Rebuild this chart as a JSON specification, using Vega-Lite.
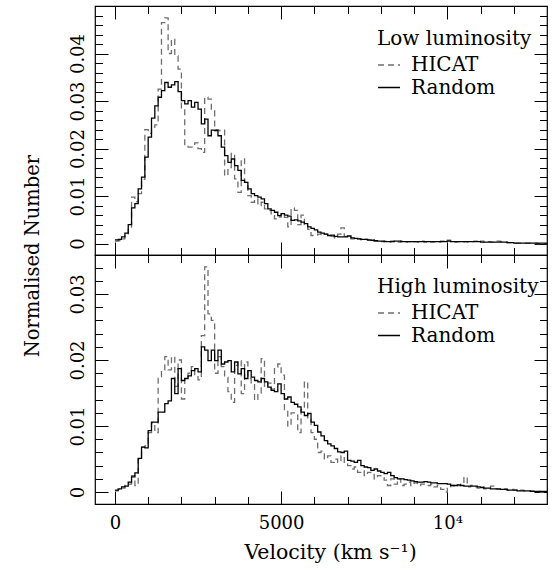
{
  "$schema": "https://vega.github.io/schema/vega-lite/v6.json",
  "autosize": {"type": "pad"},
  "padding": {"left": 21, "top": 4, "right": 5, "bottom": 5},
  "background": "white",
  "spacing": 0,
  "bounds": "flush",
  "config": {
    "font": "DejaVu Serif",
    "view": {"stroke": "black", "strokeWidth": 1.2},
    "axis": {"domain": false, "grid": false, "tickColor": "black", "tickWidth": 1, "labelColor": "black", "titleColor": "black", "labelFont": "DejaVu Serif", "titleFont": "DejaVu Serif", "labelFontSize": 18, "titleFontSize": 19.5, "titleFontWeight": "normal", "labelOverlap": false, "labelFlush": false},
    "legend": {"titleFont": "DejaVu Serif", "labelFont": "DejaVu Serif", "titleFontSize": 20, "labelFontSize": 20, "titleFontWeight": "normal", "titleColor": "black", "labelColor": "black", "symbolType": "stroke", "symbolSize": 484, "symbolStrokeWidth": 1.3, "labelOffset": 10, "rowPadding": 0.5, "titlePadding": 4, "padding": 0},
    "mark": {"color": "black"}
  },
  "datasets": {
    "low": [
      {"v":0,"HICAT":0.0005,"Random":0.0008},
      {"v":100,"HICAT":0.0006,"Random":0.0009},
      {"v":200,"HICAT":0.0010,"Random":0.0014},
      {"v":300,"HICAT":0.0018,"Random":0.0022},
      {"v":400,"HICAT":0.0030,"Random":0.0040},
      {"v":500,"HICAT":0.0098,"Random":0.0075},
      {"v":600,"HICAT":0.0088,"Random":0.0084},
      {"v":700,"HICAT":0.0105,"Random":0.0115},
      {"v":800,"HICAT":0.0135,"Random":0.0140},
      {"v":900,"HICAT":0.0240,"Random":0.0182},
      {"v":1000,"HICAT":0.0232,"Random":0.0224},
      {"v":1100,"HICAT":0.0245,"Random":0.0264},
      {"v":1200,"HICAT":0.0250,"Random":0.0290},
      {"v":1300,"HICAT":0.0325,"Random":0.0308},
      {"v":1400,"HICAT":0.0465,"Random":0.0322},
      {"v":1500,"HICAT":0.0475,"Random":0.0339},
      {"v":1600,"HICAT":0.0400,"Random":0.0329},
      {"v":1700,"HICAT":0.0430,"Random":0.0334},
      {"v":1800,"HICAT":0.0395,"Random":0.0341},
      {"v":1900,"HICAT":0.0367,"Random":0.0320},
      {"v":2000,"HICAT":0.0283,"Random":0.0301},
      {"v":2100,"HICAT":0.0206,"Random":0.0294},
      {"v":2200,"HICAT":0.0203,"Random":0.0301},
      {"v":2300,"HICAT":0.0203,"Random":0.0287},
      {"v":2400,"HICAT":0.0212,"Random":0.0297},
      {"v":2500,"HICAT":0.0200,"Random":0.0283},
      {"v":2600,"HICAT":0.0192,"Random":0.0252},
      {"v":2700,"HICAT":0.0308,"Random":0.0262},
      {"v":2800,"HICAT":0.0304,"Random":0.0227},
      {"v":2900,"HICAT":0.0280,"Random":0.0239},
      {"v":3000,"HICAT":0.0240,"Random":0.0238},
      {"v":3100,"HICAT":0.0238,"Random":0.0227},
      {"v":3200,"HICAT":0.0239,"Random":0.0203},
      {"v":3300,"HICAT":0.0143,"Random":0.0185},
      {"v":3400,"HICAT":0.0160,"Random":0.0171},
      {"v":3500,"HICAT":0.0190,"Random":0.0178},
      {"v":3600,"HICAT":0.0136,"Random":0.0164},
      {"v":3700,"HICAT":0.0108,"Random":0.0154},
      {"v":3800,"HICAT":0.0178,"Random":0.0133},
      {"v":3900,"HICAT":0.0129,"Random":0.0129},
      {"v":4000,"HICAT":0.0101,"Random":0.0115},
      {"v":4100,"HICAT":0.0087,"Random":0.0105},
      {"v":4200,"HICAT":0.0094,"Random":0.0101},
      {"v":4300,"HICAT":0.0080,"Random":0.0098},
      {"v":4400,"HICAT":0.0087,"Random":0.0094},
      {"v":4500,"HICAT":0.0073,"Random":0.0084},
      {"v":4600,"HICAT":0.0070,"Random":0.0073},
      {"v":4700,"HICAT":0.0059,"Random":0.0070},
      {"v":4800,"HICAT":0.0052,"Random":0.0066},
      {"v":4900,"HICAT":0.0056,"Random":0.0059},
      {"v":5000,"HICAT":0.0062,"Random":0.0063},
      {"v":5100,"HICAT":0.0055,"Random":0.0060},
      {"v":5200,"HICAT":0.0035,"Random":0.0058},
      {"v":5300,"HICAT":0.0075,"Random":0.0049},
      {"v":5400,"HICAT":0.0070,"Random":0.0050},
      {"v":5500,"HICAT":0.0040,"Random":0.0048},
      {"v":5600,"HICAT":0.0060,"Random":0.0045},
      {"v":5700,"HICAT":0.0040,"Random":0.0042},
      {"v":5800,"HICAT":0.0030,"Random":0.0035},
      {"v":5900,"HICAT":0.0017,"Random":0.0032},
      {"v":6000,"HICAT":0.0018,"Random":0.0029},
      {"v":6100,"HICAT":0.0020,"Random":0.0024},
      {"v":6200,"HICAT":0.0017,"Random":0.0022},
      {"v":6300,"HICAT":0.0020,"Random":0.0020},
      {"v":6400,"HICAT":0.0018,"Random":0.0017},
      {"v":6500,"HICAT":0.0015,"Random":0.0018},
      {"v":6600,"HICAT":0.0012,"Random":0.0015},
      {"v":6700,"HICAT":0.0020,"Random":0.0014},
      {"v":6800,"HICAT":0.0033,"Random":0.0014},
      {"v":6900,"HICAT":0.0015,"Random":0.0014},
      {"v":7000,"HICAT":0.0014,"Random":0.0016},
      {"v":7100,"HICAT":0.0010,"Random":0.0012},
      {"v":7200,"HICAT":0.0012,"Random":0.0011},
      {"v":7300,"HICAT":0.0010,"Random":0.0010},
      {"v":7400,"HICAT":0.0008,"Random":0.0009},
      {"v":7500,"HICAT":0.0009,"Random":0.0009},
      {"v":7600,"HICAT":0.0007,"Random":0.0008},
      {"v":7700,"HICAT":0.0008,"Random":0.0007},
      {"v":7800,"HICAT":0.0005,"Random":0.0006},
      {"v":7900,"HICAT":0.0006,"Random":0.0005},
      {"v":8000,"HICAT":0.0004,"Random":0.0005},
      {"v":8100,"HICAT":0.0005,"Random":0.0004},
      {"v":8200,"HICAT":0.0003,"Random":0.0004},
      {"v":8300,"HICAT":0.0005,"Random":0.0004},
      {"v":8400,"HICAT":0.0004,"Random":0.0005},
      {"v":8500,"HICAT":0.0003,"Random":0.0005},
      {"v":8600,"HICAT":0.0005,"Random":0.0004},
      {"v":8700,"HICAT":0.0003,"Random":0.0004},
      {"v":8800,"HICAT":0.0004,"Random":0.0004},
      {"v":8900,"HICAT":0.0002,"Random":0.0004},
      {"v":9000,"HICAT":0.0004,"Random":0.0004},
      {"v":9100,"HICAT":0.0003,"Random":0.0004},
      {"v":9200,"HICAT":0.0005,"Random":0.0004},
      {"v":9300,"HICAT":0.0003,"Random":0.0004},
      {"v":9400,"HICAT":0.0004,"Random":0.0004},
      {"v":9500,"HICAT":0.0003,"Random":0.0004},
      {"v":9600,"HICAT":0.0004,"Random":0.0004},
      {"v":9700,"HICAT":0.0003,"Random":0.0004},
      {"v":9800,"HICAT":0.0005,"Random":0.0004},
      {"v":9900,"HICAT":0.0004,"Random":0.0004},
      {"v":10000,"HICAT":0.0007,"Random":0.0005},
      {"v":10100,"HICAT":0.0004,"Random":0.0004},
      {"v":10200,"HICAT":0.0003,"Random":0.0004},
      {"v":10300,"HICAT":0.0004,"Random":0.0004},
      {"v":10400,"HICAT":0.0003,"Random":0.0004},
      {"v":10500,"HICAT":0.0004,"Random":0.0004},
      {"v":10600,"HICAT":0.0003,"Random":0.0004},
      {"v":10700,"HICAT":0.0004,"Random":0.0004},
      {"v":10800,"HICAT":0.0005,"Random":0.0004},
      {"v":10900,"HICAT":0.0003,"Random":0.0004},
      {"v":11000,"HICAT":0.0005,"Random":0.0003},
      {"v":11100,"HICAT":0.0003,"Random":0.0003},
      {"v":11200,"HICAT":0.0004,"Random":0.0003},
      {"v":11300,"HICAT":0.0003,"Random":0.0003},
      {"v":11400,"HICAT":0.0004,"Random":0.0003},
      {"v":11500,"HICAT":0.0005,"Random":0.0003},
      {"v":11600,"HICAT":0.0004,"Random":0.0003},
      {"v":11700,"HICAT":0.0003,"Random":0.0003},
      {"v":11800,"HICAT":0.0002,"Random":0.0002},
      {"v":11900,"HICAT":0.0002,"Random":0.0002},
      {"v":12000,"HICAT":0.0001,"Random":0.0001},
      {"v":12100,"HICAT":0.0001,"Random":0.0001},
      {"v":12200,"HICAT":0.0001,"Random":0.0001},
      {"v":12300,"HICAT":0.0001,"Random":0.0001},
      {"v":12400,"HICAT":0.0001,"Random":0.0001},
      {"v":12500,"HICAT":0.0001,"Random":0.0001},
      {"v":12600,"HICAT":0.0001,"Random":0.0001},
      {"v":12700,"HICAT":0.0000,"Random":0.0001},
      {"v":12800,"HICAT":0.0000,"Random":0.0001},
      {"v":12900,"HICAT":0.0000,"Random":0.0001},
      {"v":13000,"HICAT":0.0000,"Random":0.0001}
    ],
    "high": [
      {"v":0,"HICAT":0.0002,"Random":0.0003},
      {"v":100,"HICAT":0.0004,"Random":0.0005},
      {"v":200,"HICAT":0.0006,"Random":0.0008},
      {"v":300,"HICAT":0.0010,"Random":0.0009},
      {"v":400,"HICAT":0.0012,"Random":0.0015},
      {"v":500,"HICAT":0.0025,"Random":0.0023},
      {"v":600,"HICAT":0.0010,"Random":0.0029},
      {"v":700,"HICAT":0.0050,"Random":0.0051},
      {"v":800,"HICAT":0.0068,"Random":0.0068},
      {"v":900,"HICAT":0.0070,"Random":0.0067},
      {"v":1000,"HICAT":0.0090,"Random":0.0093},
      {"v":1100,"HICAT":0.0105,"Random":0.0106},
      {"v":1200,"HICAT":0.0090,"Random":0.0106},
      {"v":1300,"HICAT":0.0175,"Random":0.0121},
      {"v":1400,"HICAT":0.0185,"Random":0.0121},
      {"v":1500,"HICAT":0.0205,"Random":0.0134},
      {"v":1600,"HICAT":0.0185,"Random":0.0138},
      {"v":1700,"HICAT":0.0205,"Random":0.0172},
      {"v":1800,"HICAT":0.0160,"Random":0.0149},
      {"v":1900,"HICAT":0.0200,"Random":0.0187},
      {"v":2000,"HICAT":0.0141,"Random":0.0169},
      {"v":2100,"HICAT":0.0175,"Random":0.0172},
      {"v":2200,"HICAT":0.0180,"Random":0.0176},
      {"v":2300,"HICAT":0.0190,"Random":0.0184},
      {"v":2400,"HICAT":0.0175,"Random":0.0187},
      {"v":2500,"HICAT":0.0170,"Random":0.0182},
      {"v":2600,"HICAT":0.0237,"Random":0.0220},
      {"v":2700,"HICAT":0.0341,"Random":0.0215},
      {"v":2800,"HICAT":0.0270,"Random":0.0199},
      {"v":2900,"HICAT":0.0260,"Random":0.0215},
      {"v":3000,"HICAT":0.0180,"Random":0.0199},
      {"v":3100,"HICAT":0.0205,"Random":0.0215},
      {"v":3200,"HICAT":0.0190,"Random":0.0194},
      {"v":3300,"HICAT":0.0174,"Random":0.0197},
      {"v":3400,"HICAT":0.0152,"Random":0.0199},
      {"v":3500,"HICAT":0.0136,"Random":0.0182},
      {"v":3600,"HICAT":0.0192,"Random":0.0197},
      {"v":3700,"HICAT":0.0199,"Random":0.0179},
      {"v":3800,"HICAT":0.0149,"Random":0.0187},
      {"v":3900,"HICAT":0.0197,"Random":0.0172},
      {"v":4000,"HICAT":0.0172,"Random":0.0184},
      {"v":4100,"HICAT":0.0165,"Random":0.0174},
      {"v":4200,"HICAT":0.0139,"Random":0.0169},
      {"v":4300,"HICAT":0.0150,"Random":0.0167},
      {"v":4400,"HICAT":0.0202,"Random":0.0172},
      {"v":4500,"HICAT":0.0160,"Random":0.0167},
      {"v":4600,"HICAT":0.0165,"Random":0.0159},
      {"v":4700,"HICAT":0.0156,"Random":0.0154},
      {"v":4800,"HICAT":0.0189,"Random":0.0152},
      {"v":4900,"HICAT":0.0194,"Random":0.0164},
      {"v":5000,"HICAT":0.0177,"Random":0.0149},
      {"v":5100,"HICAT":0.0125,"Random":0.0141},
      {"v":5200,"HICAT":0.0100,"Random":0.0144},
      {"v":5300,"HICAT":0.0120,"Random":0.0136},
      {"v":5400,"HICAT":0.0118,"Random":0.0133},
      {"v":5500,"HICAT":0.0090,"Random":0.0129},
      {"v":5600,"HICAT":0.0125,"Random":0.0121},
      {"v":5700,"HICAT":0.0167,"Random":0.0116},
      {"v":5800,"HICAT":0.0110,"Random":0.0119},
      {"v":5900,"HICAT":0.0090,"Random":0.0106},
      {"v":6000,"HICAT":0.0080,"Random":0.0101},
      {"v":6100,"HICAT":0.0060,"Random":0.0091},
      {"v":6200,"HICAT":0.0062,"Random":0.0085},
      {"v":6300,"HICAT":0.0050,"Random":0.0078},
      {"v":6400,"HICAT":0.0055,"Random":0.0073},
      {"v":6500,"HICAT":0.0045,"Random":0.0070},
      {"v":6600,"HICAT":0.0050,"Random":0.0066},
      {"v":6700,"HICAT":0.0045,"Random":0.0061},
      {"v":6800,"HICAT":0.0055,"Random":0.0060},
      {"v":6900,"HICAT":0.0043,"Random":0.0062},
      {"v":7000,"HICAT":0.0040,"Random":0.0048},
      {"v":7100,"HICAT":0.0035,"Random":0.0047},
      {"v":7200,"HICAT":0.0038,"Random":0.0045},
      {"v":7300,"HICAT":0.0030,"Random":0.0048},
      {"v":7400,"HICAT":0.0032,"Random":0.0040},
      {"v":7500,"HICAT":0.0025,"Random":0.0038},
      {"v":7600,"HICAT":0.0030,"Random":0.0037},
      {"v":7700,"HICAT":0.0028,"Random":0.0033},
      {"v":7800,"HICAT":0.0020,"Random":0.0035},
      {"v":7900,"HICAT":0.0025,"Random":0.0032},
      {"v":8000,"HICAT":0.0022,"Random":0.0030},
      {"v":8100,"HICAT":0.0018,"Random":0.0028},
      {"v":8200,"HICAT":0.0010,"Random":0.0030},
      {"v":8300,"HICAT":0.0020,"Random":0.0025},
      {"v":8400,"HICAT":0.0012,"Random":0.0022},
      {"v":8500,"HICAT":0.0020,"Random":0.0020},
      {"v":8600,"HICAT":0.0010,"Random":0.0020},
      {"v":8700,"HICAT":0.0012,"Random":0.0019},
      {"v":8800,"HICAT":0.0015,"Random":0.0018},
      {"v":8900,"HICAT":0.0010,"Random":0.0017},
      {"v":9000,"HICAT":0.0014,"Random":0.0016},
      {"v":9100,"HICAT":0.0010,"Random":0.0015},
      {"v":9200,"HICAT":0.0012,"Random":0.0015},
      {"v":9300,"HICAT":0.0012,"Random":0.0016},
      {"v":9400,"HICAT":0.0010,"Random":0.0015},
      {"v":9500,"HICAT":0.0012,"Random":0.0014},
      {"v":9600,"HICAT":0.0008,"Random":0.0014},
      {"v":9700,"HICAT":0.0010,"Random":0.0013},
      {"v":9800,"HICAT":0.0004,"Random":0.0013},
      {"v":9900,"HICAT":0.0000,"Random":0.0013},
      {"v":10000,"HICAT":0.0008,"Random":0.0012},
      {"v":10100,"HICAT":0.0010,"Random":0.0010},
      {"v":10200,"HICAT":0.0008,"Random":0.0010},
      {"v":10300,"HICAT":0.0010,"Random":0.0011},
      {"v":10400,"HICAT":0.0012,"Random":0.0010},
      {"v":10500,"HICAT":0.0023,"Random":0.0009},
      {"v":10600,"HICAT":0.0008,"Random":0.0009},
      {"v":10700,"HICAT":0.0010,"Random":0.0009},
      {"v":10800,"HICAT":0.0008,"Random":0.0009},
      {"v":10900,"HICAT":0.0006,"Random":0.0008},
      {"v":11000,"HICAT":0.0008,"Random":0.0007},
      {"v":11100,"HICAT":0.0005,"Random":0.0006},
      {"v":11200,"HICAT":0.0006,"Random":0.0006},
      {"v":11300,"HICAT":0.0009,"Random":0.0005},
      {"v":11400,"HICAT":0.0005,"Random":0.0005},
      {"v":11500,"HICAT":0.0004,"Random":0.0005},
      {"v":11600,"HICAT":0.0004,"Random":0.0004},
      {"v":11700,"HICAT":0.0005,"Random":0.0004},
      {"v":11800,"HICAT":0.0003,"Random":0.0003},
      {"v":11900,"HICAT":0.0004,"Random":0.0003},
      {"v":12000,"HICAT":0.0003,"Random":0.0003},
      {"v":12100,"HICAT":0.0004,"Random":0.0002},
      {"v":12200,"HICAT":0.0003,"Random":0.0002},
      {"v":12300,"HICAT":0.0002,"Random":0.0002},
      {"v":12400,"HICAT":0.0002,"Random":0.0002},
      {"v":12500,"HICAT":0.0002,"Random":0.0001},
      {"v":12600,"HICAT":0.0001,"Random":0.0001},
      {"v":12700,"HICAT":0.0001,"Random":0.0001},
      {"v":12800,"HICAT":0.0000,"Random":0.0001},
      {"v":12900,"HICAT":0.0000,"Random":0.0001},
      {"v":13000,"HICAT":0.0000,"Random":0.0001}
    ]
  },
  "resolve": {"scale": {"strokeDash": "independent", "stroke": "independent"}, "legend": {"strokeDash": "independent", "stroke": "independent"}},
  "vconcat": [
    {
      "width": 452,
      "height": 249,
      "data": {"name": "low"},
      "transform": [{"fold": ["HICAT", "Random"], "as": ["series", "n"]}],
      "resolve": {"axis": {"x": "independent", "y": "independent"}},
      "layer": [
        {
          "mark": {"type": "line", "interpolate": "step-after", "strokeWidth": 1.3},
          "encoding": {
            "x": {"field": "v", "type": "quantitative", "scale": {"domain": [-600, 13000], "nice": false, "zero": false},
                  "axis": {"orient": "bottom", "values": [0, 5000, 10000], "tickSize": -13, "labels": false, "title": null}},
            "y": {"field": "n", "type": "quantitative", "scale": {"domain": [-0.0024, 0.05], "nice": false, "zero": false},
                  "axis": {"orient": "left", "values": [0, 0.01, 0.02, 0.03, 0.04], "tickSize": -13, "format": ".2~f", "labelAngle": -90, "labelAlign": "center", "labelBaseline": "bottom", "labelPadding": 21,
                           "title": "Normalised Number", "titleX": -57, "titleY": 249.5, "titleAngle": -90, "titleAlign": "center", "titleBaseline": "alphabetic"}},
            "stroke": {"field": "series", "type": "nominal", "scale": {"domain": ["HICAT", "Random"], "range": ["#6e6e6e", "#000000"]},
                       "legend": {"title": "Low luminosity", "orient": "none", "legendX": 282, "legendY": 23}},
            "strokeDash": {"field": "series", "type": "nominal", "scale": {"domain": ["HICAT", "Random"], "range": [[6, 4], [1, 0]]},
                           "legend": {"title": "Low luminosity", "orient": "none", "legendX": 282, "legendY": 23}}
          }
        },
        {
          "mark": {"type": "line", "opacity": 0},
          "encoding": {
            "x": {"field": "v", "type": "quantitative", "scale": {"domain": [-600, 13000], "nice": false, "zero": false},
                  "axis": {"orient": "bottom", "values": [1000, 2000, 3000, 4000, 6000, 7000, 8000, 9000, 11000, 12000], "tickSize": -7.5, "labels": false, "title": null}},
            "y": {"field": "n", "type": "quantitative", "scale": {"domain": [-0.0024, 0.05], "nice": false, "zero": false},
                  "axis": {"orient": "left", "values": [0.002, 0.004, 0.006, 0.008, 0.012, 0.014, 0.016, 0.018, 0.022, 0.024, 0.026, 0.028, 0.032, 0.034, 0.036, 0.038, 0.042, 0.044, 0.046, 0.048], "tickSize": -7.5, "labels": false, "title": null}}
          }
        },
        {
          "mark": {"type": "line", "opacity": 0},
          "encoding": {
            "x": {"field": "v", "type": "quantitative", "scale": {"domain": [-600, 13000], "nice": false, "zero": false},
                  "axis": {"orient": "top", "values": [0, 5000, 10000], "tickSize": -13, "labels": false, "title": null}},
            "y": {"field": "n", "type": "quantitative", "scale": {"domain": [-0.0024, 0.05], "nice": false, "zero": false},
                  "axis": {"orient": "right", "values": [0, 0.01, 0.02, 0.03, 0.04], "tickSize": -13, "labels": false, "title": null}}
          }
        },
        {
          "mark": {"type": "line", "opacity": 0},
          "encoding": {
            "x": {"field": "v", "type": "quantitative", "scale": {"domain": [-600, 13000], "nice": false, "zero": false},
                  "axis": {"orient": "top", "values": [1000, 2000, 3000, 4000, 6000, 7000, 8000, 9000, 11000, 12000], "tickSize": -7.5, "labels": false, "title": null}},
            "y": {"field": "n", "type": "quantitative", "scale": {"domain": [-0.0024, 0.05], "nice": false, "zero": false},
                  "axis": {"orient": "right", "values": [0.002, 0.004, 0.006, 0.008, 0.012, 0.014, 0.016, 0.018, 0.022, 0.024, 0.026, 0.028, 0.032, 0.034, 0.036, 0.038, 0.042, 0.044, 0.046, 0.048], "tickSize": -7.5, "labels": false, "title": null}}
          }
        }
      ]
    },
    {
      "width": 452,
      "height": 249,
      "data": {"name": "high"},
      "transform": [{"fold": ["HICAT", "Random"], "as": ["series", "n"]}],
      "resolve": {"axis": {"x": "independent", "y": "independent"}},
      "layer": [
        {
          "mark": {"type": "line", "interpolate": "step-after", "strokeWidth": 1.3},
          "encoding": {
            "x": {"field": "v", "type": "quantitative", "scale": {"domain": [-600, 13000], "nice": false, "zero": false},
                  "axis": {"orient": "bottom", "values": [0, 5000, 10000], "tickSize": -13, "labelExpr": "datum.value === 10000 ? '10⁴' : format(datum.value, 'd')", "labelPadding": 23,
                           "title": "Velocity (km s⁻¹)", "titleX": 235, "titleY": 54, "titleAlign": "center", "titleBaseline": "alphabetic", "titleFontSize": 20.5}},
            "y": {"field": "n", "type": "quantitative", "scale": {"domain": [-0.0018, 0.0359], "nice": false, "zero": false},
                  "axis": {"orient": "left", "values": [0, 0.01, 0.02, 0.03], "tickSize": -13, "format": ".2~f", "labelAngle": -90, "labelAlign": "center", "labelBaseline": "bottom", "labelPadding": 21, "title": null}},
            "stroke": {"field": "series", "type": "nominal", "scale": {"domain": ["HICAT", "Random"], "range": ["#6e6e6e", "#000000"]},
                       "legend": {"title": "High luminosity", "orient": "none", "legendX": 282, "legendY": 22}},
            "strokeDash": {"field": "series", "type": "nominal", "scale": {"domain": ["HICAT", "Random"], "range": [[6, 4], [1, 0]]},
                           "legend": {"title": "High luminosity", "orient": "none", "legendX": 282, "legendY": 22}}
          }
        },
        {
          "mark": {"type": "line", "opacity": 0},
          "encoding": {
            "x": {"field": "v", "type": "quantitative", "scale": {"domain": [-600, 13000], "nice": false, "zero": false},
                  "axis": {"orient": "bottom", "values": [1000, 2000, 3000, 4000, 6000, 7000, 8000, 9000, 11000, 12000], "tickSize": -7.5, "labels": false, "title": null}},
            "y": {"field": "n", "type": "quantitative", "scale": {"domain": [-0.0018, 0.0359], "nice": false, "zero": false},
                  "axis": {"orient": "left", "values": [0.002, 0.004, 0.006, 0.008, 0.012, 0.014, 0.016, 0.018, 0.022, 0.024, 0.026, 0.028, 0.032, 0.034], "tickSize": -7.5, "labels": false, "title": null}}
          }
        },
        {
          "mark": {"type": "line", "opacity": 0},
          "encoding": {
            "x": {"field": "v", "type": "quantitative", "scale": {"domain": [-600, 13000], "nice": false, "zero": false},
                  "axis": {"orient": "top", "values": [0, 5000, 10000], "tickSize": -13, "labels": false, "title": null}},
            "y": {"field": "n", "type": "quantitative", "scale": {"domain": [-0.0018, 0.0359], "nice": false, "zero": false},
                  "axis": {"orient": "right", "values": [0, 0.01, 0.02, 0.03], "tickSize": -13, "labels": false, "title": null}}
          }
        },
        {
          "mark": {"type": "line", "opacity": 0},
          "encoding": {
            "x": {"field": "v", "type": "quantitative", "scale": {"domain": [-600, 13000], "nice": false, "zero": false},
                  "axis": {"orient": "top", "values": [1000, 2000, 3000, 4000, 6000, 7000, 8000, 9000, 11000, 12000], "tickSize": -7.5, "labels": false, "title": null}},
            "y": {"field": "n", "type": "quantitative", "scale": {"domain": [-0.0018, 0.0359], "nice": false, "zero": false},
                  "axis": {"orient": "right", "values": [0.002, 0.004, 0.006, 0.008, 0.012, 0.014, 0.016, 0.018, 0.022, 0.024, 0.026, 0.028, 0.032, 0.034], "tickSize": -7.5, "labels": false, "title": null}}
          }
        }
      ]
    }
  ]
}
